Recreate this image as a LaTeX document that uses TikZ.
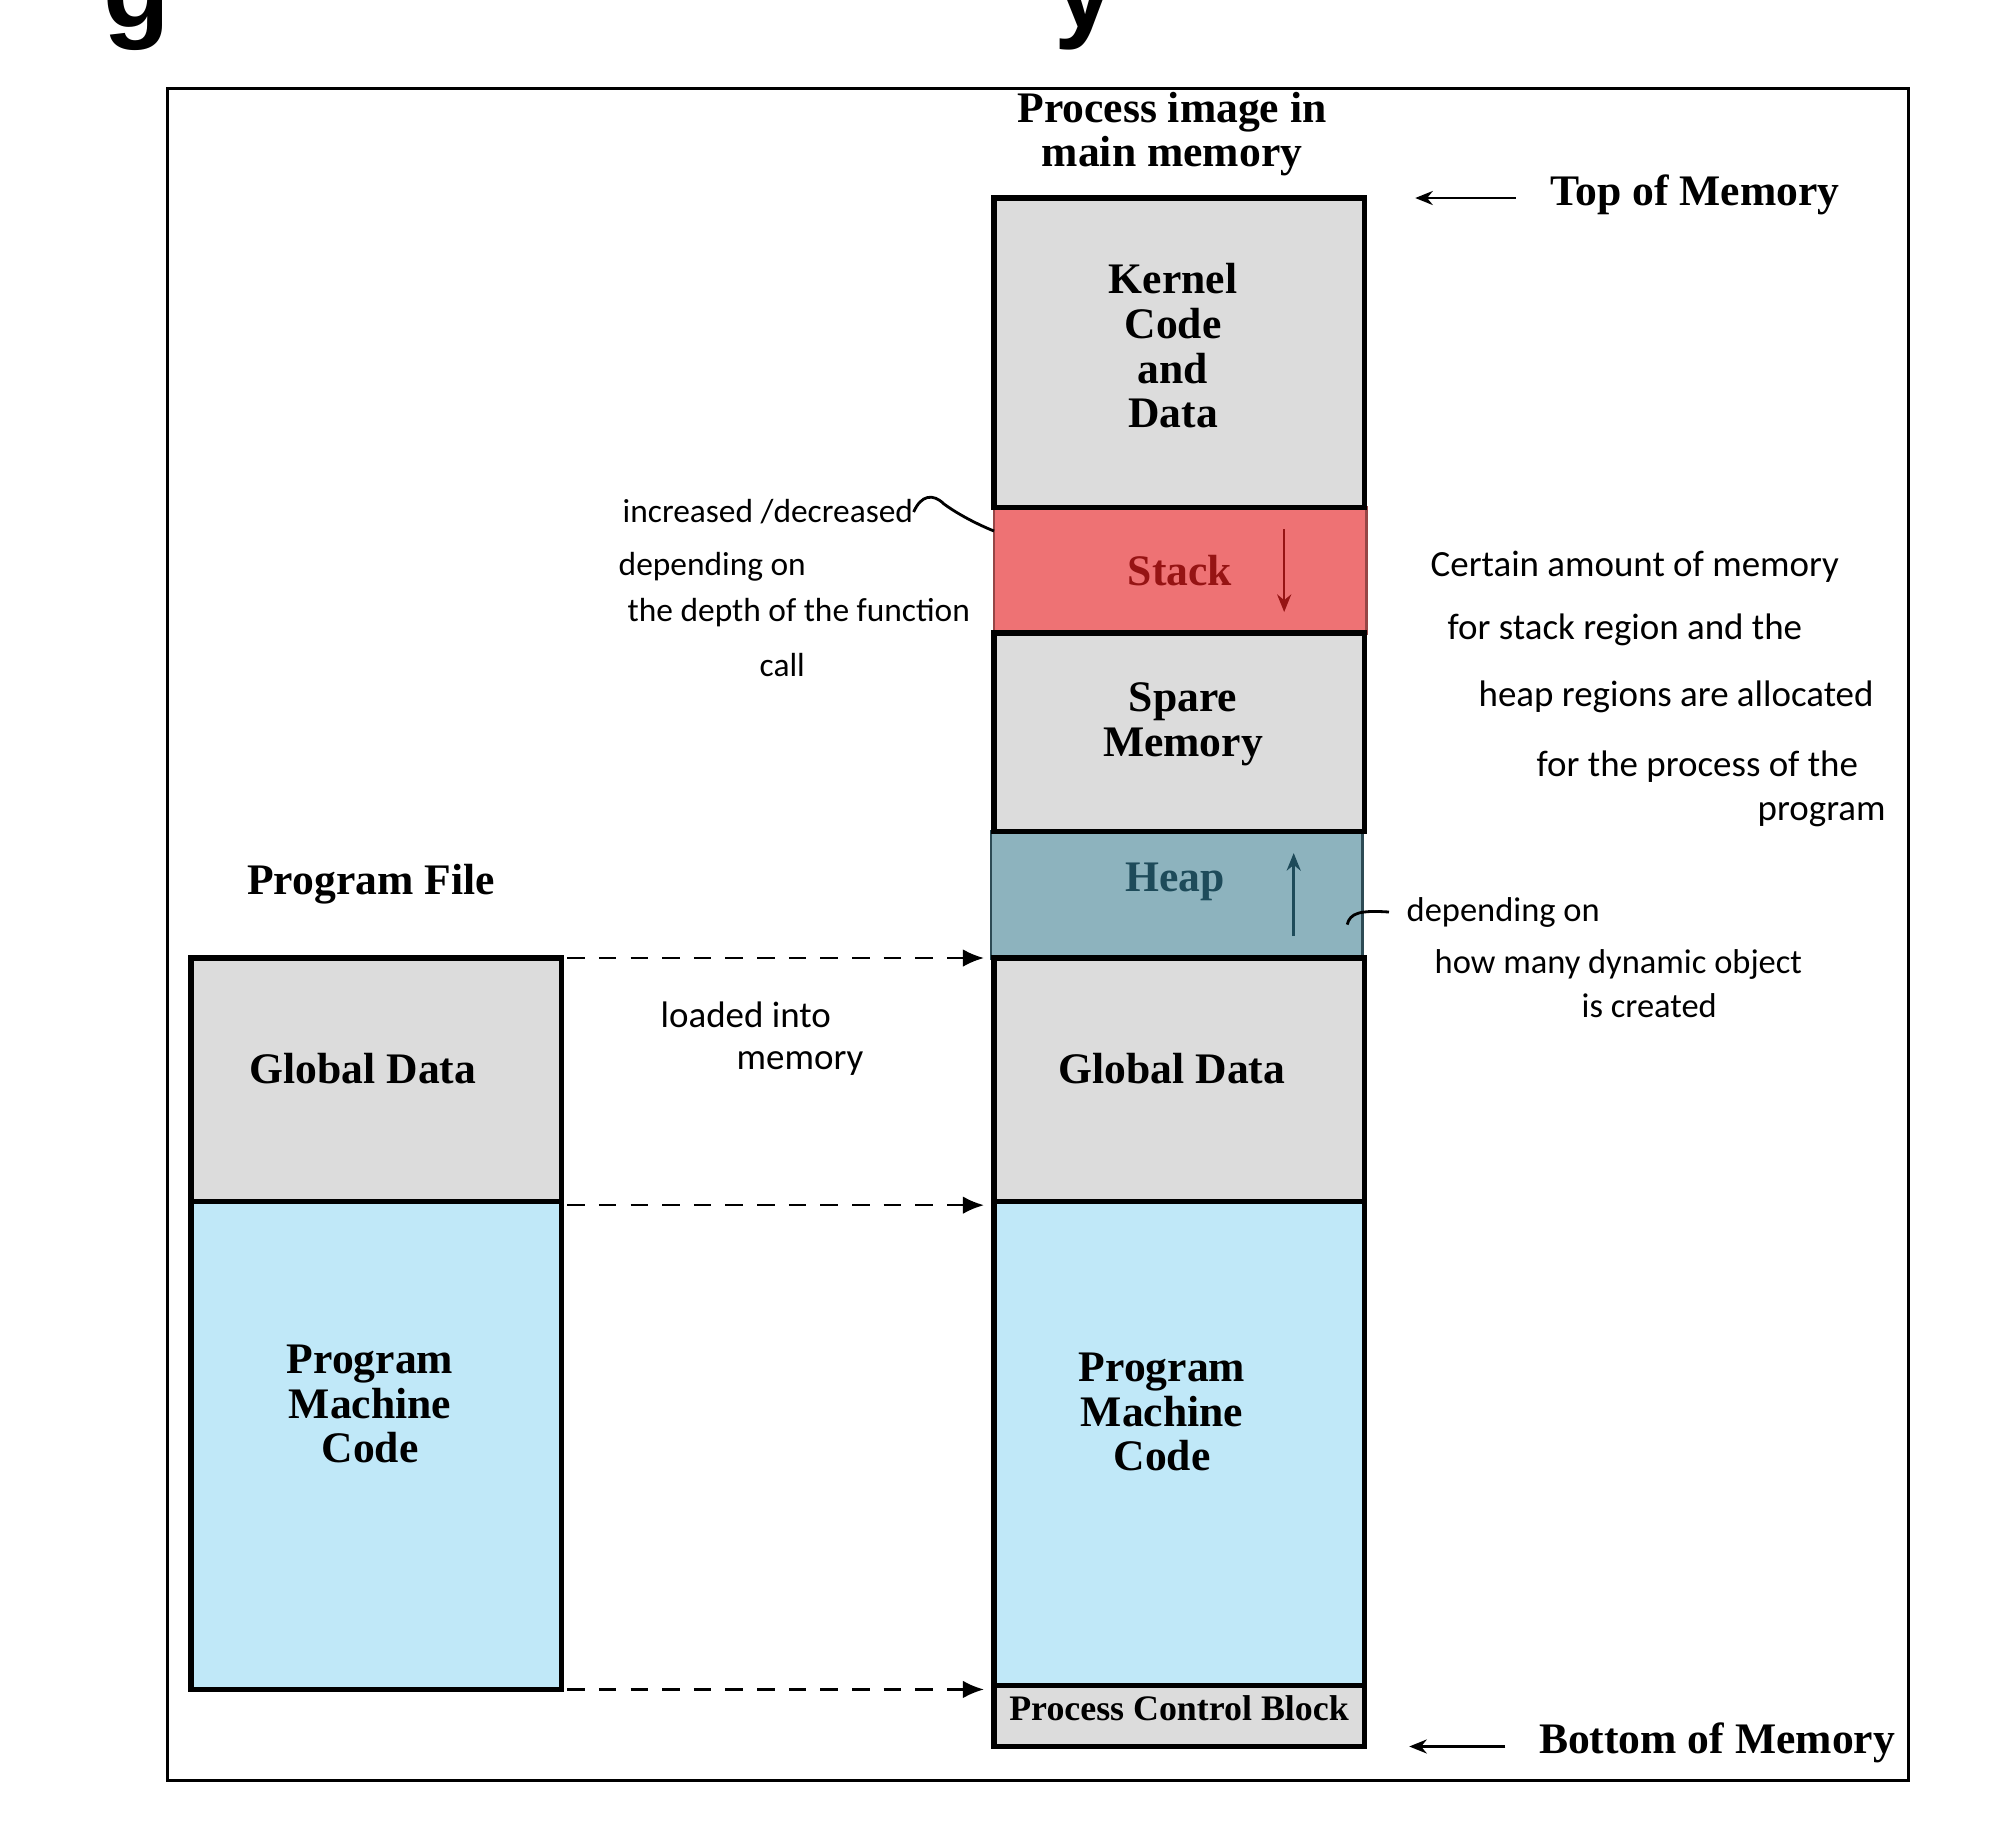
\documentclass[tikz,border=0pt]{standalone}
\usepackage{fontspec}
\setmainfont{Liberation Serif}
\newfontfamily\handfont{Carlito}
\newfontfamily\titlefont{Liberation Sans}
\usetikzlibrary{positioning}
\usetikzlibrary{arrows.meta}

\definecolor{segGray}{RGB}{220,220,220}
\definecolor{codeBlue}{RGB}{192,232,248}
\definecolor{stackFill}{RGB}{238,114,116}
\definecolor{stackDraw}{RGB}{150,70,70}
\definecolor{stackText}{RGB}{150,20,20}
\definecolor{heapFill}{RGB}{141,179,190}
\definecolor{heapDraw}{RGB}{45,75,85}
\definecolor{heapText}{RGB}{30,75,90}

\tikzset{
    seg/.style={draw=black, line width=1.5pt, outer sep=0pt, inner sep=0pt,
        minimum width=3.70cm, anchor=north west},
    lbl/.style={font=\fontsize{12.4}{12.7}\selectfont\bfseries, align=center, inner sep=0pt},
    hand/.style={font=\handfont\fontsize{#1}{#1}\selectfont, anchor=west, inner sep=0pt},
    hand/.default=10,
    load/.style={dash pattern=on 5pt off 4pt, line width=0.7pt, -{Latex[length=6pt,width=5pt]}},
    memarrow/.style={line width=0.7pt, -{Stealth[length=5pt,width=4pt]}}
}

\begin{document}
\begin{tikzpicture}[x=0.01cm, y=-0.01cm]
    \useasboundingbox (0,0) rectangle (2000,1832);

    % cut-off title
    \node[font=\titlefont\fontsize{31}{31}\selectfont\bfseries, anchor=base west, inner sep=0pt] (titleg) at (103,27) {g};
    \node[font=\titlefont\fontsize{31}{31}\selectfont\bfseries, anchor=base west, inner sep=0pt] (titley) at (1054,27) {y};

    \node[draw, line width=0.9pt, minimum width=17.40cm, minimum height=16.91cm, anchor=north west] (frame) at (166,86.5) {};

    % program file
    \node[seg, fill=segGray, minimum height=2.43cm] (fglob) at (191,958) {};
    \node[seg, fill=codeBlue, minimum height=4.88cm, below=0pt of fglob] (fcode) {};
    \node[lbl] (filetitle) at (371,884) {Program File};
    \node[lbl] (fglobtxt) at (363,1069) {Global Data};
    \node[lbl] (fcodetxt) at (370,1404) {Program\\Machine\\Code};

    % process image
    \node[seg, fill=stackFill, draw=stackDraw, line width=0.8pt, minimum width=3.72cm, minimum height=1.26cm] (stack) at (994,507) {};
    \node[seg, fill=heapFill, draw=heapDraw, line width=0.8pt, minimum width=3.71cm, minimum height=1.27cm] (heap) at (991,831) {};
    \node[seg, fill=segGray, minimum height=3.09cm] (kern) at (994,198) {};
    \node[seg, fill=segGray, minimum height=1.98cm] (spare) at (994,633) {};
    \node[seg, fill=segGray, minimum height=2.43cm] (glob) at (994,958) {};
    \node[seg, fill=codeBlue, minimum height=4.84cm, below=0pt of glob] (code) {};
    \node[seg, fill=segGray, minimum height=0.61cm, below=0pt of code] (pcb) {};

    \node[lbl] (imgtitle) at (1172,134) {Process image in\\main memory};
    \node[lbl] (kerntxt) at (1173,346) {Kernel\\Code\\and\\Data};
    \node[lbl, text=stackText] (stacktxt) at (1180,571) {Stack};
    \node[lbl] (sparetxt) at (1183,724) {Spare\\Memory};
    \node[lbl, text=heapText] (heaptxt) at (1175,882) {Heap};
    \node[lbl] (globtxt) at (1172,1069) {Global Data};
    \node[lbl] (codetxt) at (1162,1412) {Program\\Machine\\Code};
    \node[lbl, font=\fontsize{10.2}{10.2}\selectfont\bfseries] (pcbtxt) at (1179,1708) {Process Control Block};

    \draw[stackText, line width=0.7pt, -{Stealth[length=5pt,width=4pt]}] ([xshift=1.04cm, yshift=-0.22cm]stack.north) -- ++(0,83);
    \draw[heapText, line width=0.7pt, -{Stealth[length=5pt,width=4pt]}] ([xshift=1.17cm, yshift=0.22cm]heap.south) -- ++(0,-83);

    % top and bottom
    \node[lbl] (topmem) at (1695,195) {Top of Memory};
    \node[lbl] (botmem) at (1717,1743) {Bottom of Memory};
    \draw[memarrow] ([xshift=-0.34cm]topmem.west |- kern.north) -- ([xshift=0.51cm]kern.north east);
    \draw[memarrow] ([xshift=-0.33cm]botmem.west |- pcb.south) -- ([xshift=0.45cm]pcb.south east);

    % loaded into memory
    \draw[load] ([xshift=0.06cm]fglob.north east) -- ([xshift=-0.1cm]glob.north west);
    \draw[load] ([xshift=0.06cm, yshift=-0.04cm]fglob.south east) -- ([xshift=-0.1cm, yshift=-0.04cm]glob.south west);
    \draw[load] ([xshift=0.06cm]fcode.south east) -- ([xshift=-0.1cm]fcode.south east -| glob.west);

    % notes
    \node[hand=9.5] (stnA) at (622,512) {increased /decreased};
    \node[hand=9.5] (stnB) at (618,567) {depending on};
    \node[hand=9.5] (stnC) at (627,613) {the depth of the function};
    \node[hand=9.5] (stnD) at (759,665) {call};
    \draw[line width=0.8pt] (stnA.east) .. controls (921,495) and (933,493) .. (944,504)
        .. controls (959,515) and (979,525) .. ([yshift=-0.24cm]stack.north west);

    \node[hand=10.5] (memA) at (1430,567) {Certain amount of memory};
    \node[hand=10.5] (memB) at (1447,630) {for stack region and the};
    \node[hand=10.5] (memC) at (1478,697) {heap regions are allocated};
    \node[hand=10.5] (memD) at (1536,767) {for the process of the};
    \node[hand=10.5] (memE) at (1757,815) {program};

    \node[hand=9.8] (hpA) at (1406,912) {depending on};
    \node[hand=9.8] (hpB) at (1434,964) {how many dynamic object};
    \node[hand=9.8] (hpC) at (1581,1006) {is created};
    \draw[line width=0.8pt] ([xshift=-0.15cm, yshift=-0.3cm]heap.east) .. controls (1350,913) and (1360,910) .. ([xshift=-0.17cm]hpA.west);

    \node[hand=10.5] (ldA) at (660,1015) {loaded into};
    \node[hand=10.5] (ldB) at (736,1063) {memory};
\end{tikzpicture}
\end{document}
